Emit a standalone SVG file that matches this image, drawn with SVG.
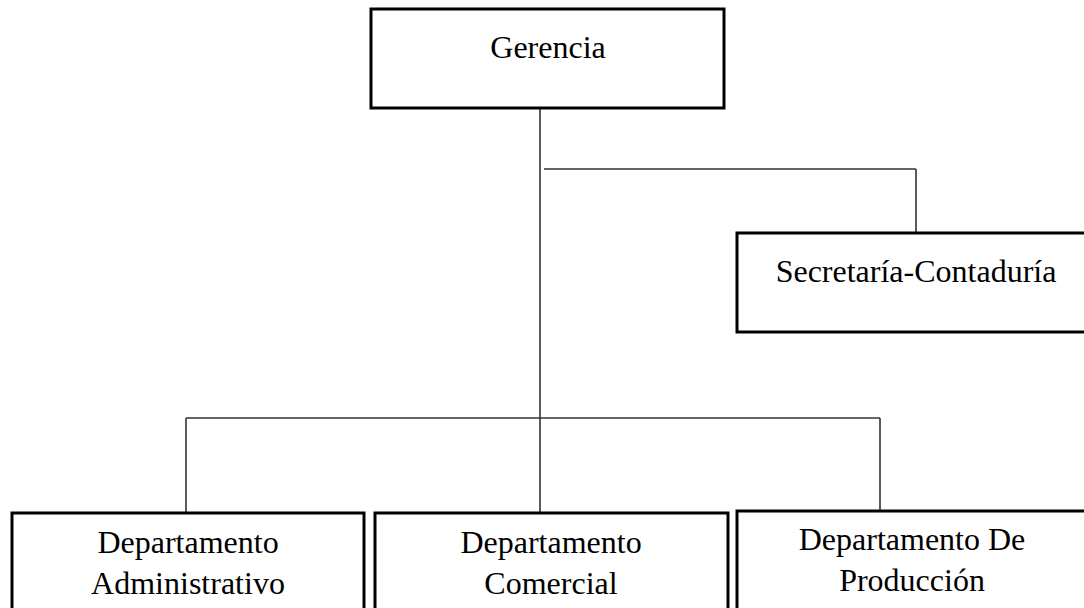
<svg xmlns="http://www.w3.org/2000/svg" width="1084" height="608" viewBox="0 0 1084 608">
  <style>
    .box { fill: #ffffff; stroke: #000000; stroke-width: 3; }
    .lbl { font-family: "Liberation Serif", "Times New Roman", serif; font-size: 32px; fill: #000000; text-anchor: middle; }
    .conn { stroke: #333333; stroke-width: 1.6; fill: none; }
  </style>
  <rect width="1084" height="608" fill="#ffffff"/>
  <g id="connectors">
    <line class="conn" x1="540" y1="108" x2="540" y2="517"/>
    <line class="conn" x1="544" y1="169" x2="916" y2="169"/>
    <line class="conn" x1="916" y1="169" x2="916" y2="233"/>
    <line class="conn" x1="186" y1="418" x2="880" y2="418"/>
    <line class="conn" x1="186" y1="418" x2="186" y2="521"/>
    <line class="conn" x1="880" y1="418" x2="880" y2="511"/>
  </g>
  <g id="gerencia">
    <rect class="box" x="371" y="9" width="353" height="99"/>
    <text class="lbl" x="548" y="58">Gerencia</text>
  </g>
  <g id="secretaria">
    <rect class="box" x="737" y="233" width="358" height="99"/>
    <text class="lbl" x="916" y="282">Secretaría-Contaduría</text>
  </g>
  <g id="dep-administrativo">
    <rect class="box" x="12" y="513" width="352" height="110"/>
    <text class="lbl" x="188" y="553">Departamento</text>
    <text class="lbl" x="188" y="594">Administrativo</text>
  </g>
  <g id="dep-comercial">
    <rect class="box" x="375" y="513" width="353" height="110"/>
    <text class="lbl" x="551" y="553">Departamento</text>
    <text class="lbl" x="551" y="594">Comercial</text>
  </g>
  <g id="dep-produccion">
    <rect class="box" x="737" y="511" width="350" height="110"/>
    <text class="lbl" x="912" y="550">Departamento De</text>
    <text class="lbl" x="912" y="591">Producción</text>
  </g>
</svg>
